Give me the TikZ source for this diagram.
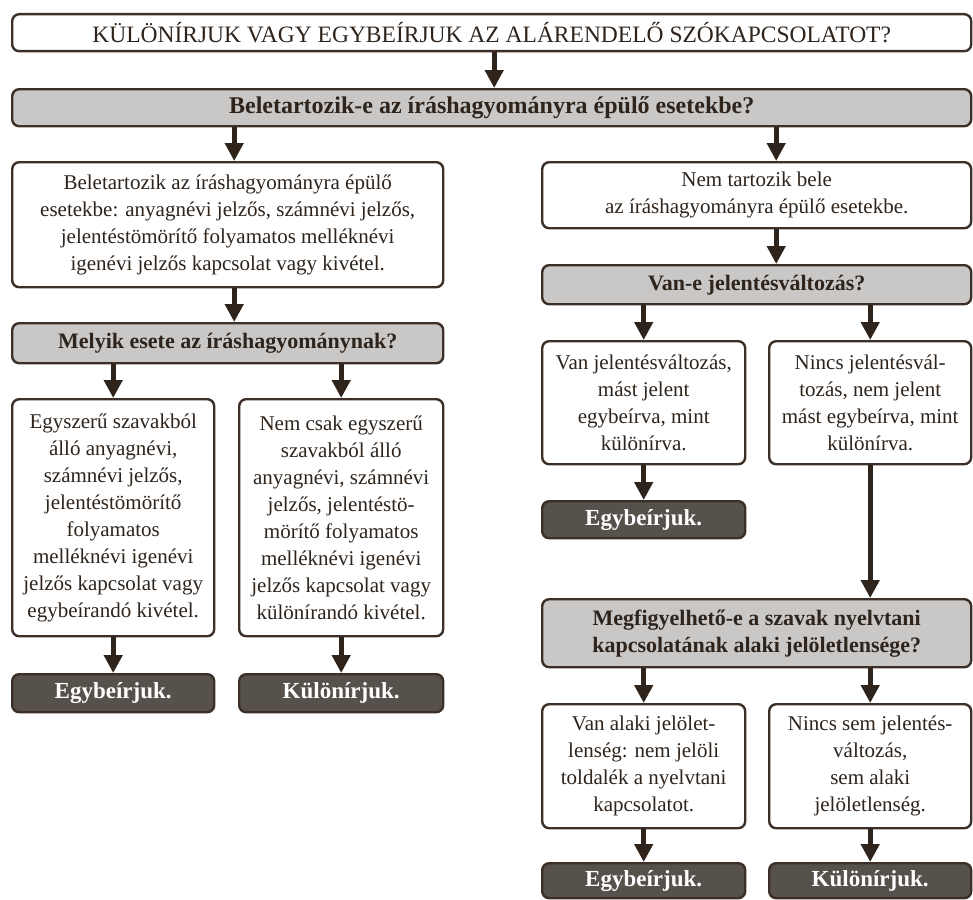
\documentclass[tikz,border=0pt]{standalone}
\usepackage{fontspec}
\setmainfont{Liberation Serif}
\usepackage{xcolor}
\usepackage{tikz}
\usetikzlibrary{arrows.meta,positioning,calc}
\definecolor{edge}{HTML}{3B2F28}
\definecolor{ink}{HTML}{2E241C}
\definecolor{shade}{HTML}{C9C8C6}
\definecolor{darkfill}{HTML}{57514C}
\tikzset{
  box/.style={draw=edge,line width=2.4pt,rounded corners=7pt,fill=white,text=ink,
    align=center,inner sep=0pt,anchor=north west,font=\fontsize{21}{27}\selectfont},
  askbox/.style={box,fill=shade,font=\bfseries\fontsize{22}{27}\selectfont},
  endbox/.style={box,fill=darkfill,text=white,font=\bfseries\fontsize{23}{27}\selectfont},
  arr/.style={draw=ink,line width=5pt,-{Triangle[width=18pt,length=18pt]}}
}

\begin{document}
\begin{tikzpicture}[x=1pt,y=-1pt]
\useasboundingbox (0,0) rectangle (973,899);
\node[box,minimum width=959,minimum height=37,font=\fontsize{23.5}{27}\selectfont] (top) at (11,13)
  {KÜLÖNÍRJUK VAGY EGYBEÍRJUK AZ ALÁRENDELŐ SZÓKAPCSOLATOT?};
\node[askbox,minimum width=959,minimum height=37,font=\bfseries\fontsize{24}{27}\selectfont] (q1) at (11,88)
  {Beletartozik-e az íráshagyományra épülő esetekbe?};
\node[box,minimum width=431,minimum height=125] (yesinfo) at (11,161)
  {Beletartozik az íráshagyományra épülő\\esetekbe: anyagnévi jelzős, számnévi jelzős,\\jelentéstömörítő folyamatos melléknévi\\igenévi jelzős kapcsolat vagy kivétel.};
\node[box,minimum width=429,minimum height=66] (noinfo) at (541,161)
  {Nem tartozik bele\\az íráshagyományra épülő esetekbe.};
\node[askbox,minimum width=431,minimum height=40] (q2) at (11,322)
  {Melyik esete az íráshagyománynak?};
\node[askbox,minimum width=429,minimum height=39] (q3) at (541,264)
  {Van-e jelentésváltozás?};
\node[box,minimum width=202,minimum height=237] (simple) at (11,398)
  {Egyszerű szavakból\\álló anyagnévi,\\számnévi jelzős,\\jelentéstömörítő\\folyamatos\\melléknévi igenévi\\jelzős kapcsolat vagy\\egybeírandó kivétel.};
\node[box,minimum width=204,minimum height=237] (notsimple) at (238,398)
  {Nem csak egyszerű\\szavakból álló\\anyagnévi, számnévi\\jelzős, jelentéstö-\\mörítő folyamatos\\melléknévi igenévi\\jelzős kapcsolat vagy\\különírandó kivétel.};
\node[endbox,minimum width=202,minimum height=38] (end1) at (11,673) {Egybeírjuk.};
\node[endbox,minimum width=204,minimum height=38] (end2) at (238,673) {Különírjuk.};
\node[box,minimum width=203,minimum height=123] (change) at (541,340)
  {Van jelentésváltozás,\\mást jelent\\egybeírva, mint\\különírva.};
\node[box,minimum width=202,minimum height=123] (nochange) at (768,340)
  {Nincs jelentésvál-\\tozás, nem jelent\\mást egybeírva, mint\\különírva.};
\node[endbox,minimum width=203,minimum height=37] (end3) at (541,500) {Egybeírjuk.};
\node[askbox,minimum width=429,minimum height=68] (q4) at (541,598)
  {Megfigyelhető-e a szavak nyelvtani\\kapcsolatának alaki jelöletlensége?};
\node[box,minimum width=203,minimum height=124] (unmarked) at (541,703)
  {Van alaki jelölet-\\lenség: nem jelöli\\toldalék a nyelvtani\\kapcsolatot.};
\node[box,minimum width=202,minimum height=124] (neither) at (768,703)
  {Nincs sem jelentés-\\változás,\\sem alaki\\jelöletlenség.};
\node[endbox,minimum width=203,minimum height=35] (end4) at (541,862) {Egybeírjuk.};
\node[endbox,minimum width=202,minimum height=35] (end5) at (768,862) {Különírjuk.};

\draw[arr] ([xshift=2.5pt]top.south) -- ([xshift=2.5pt]q1.north);
\draw[arr] ([xshift=6.5pt]q1.south -| yesinfo) -- ([xshift=6.5pt]yesinfo.north);
\draw[arr] ([xshift=19.5pt]q1.south -| noinfo) -- ([xshift=19.5pt]noinfo.north);
\draw[arr] ([xshift=6.5pt]yesinfo.south) -- ([xshift=6.5pt]q2.north);
\draw[arr] ([xshift=19.5pt]noinfo.south) -- ([xshift=19.5pt]q3.north);
\draw[arr] (nochange) -- (q4.north -| nochange);
\foreach \a/\b in {q2/simple,q2/notsimple,q3/change,q3/nochange,q4/unmarked,q4/neither}
  {\draw[arr] (\a.south -| \b) -- (\b);}
\foreach \a/\b in {simple/end1,notsimple/end2,change/end3,unmarked/end4,neither/end5}
  {\draw[arr] (\a) -- (\b);}
\end{tikzpicture}
\end{document}
